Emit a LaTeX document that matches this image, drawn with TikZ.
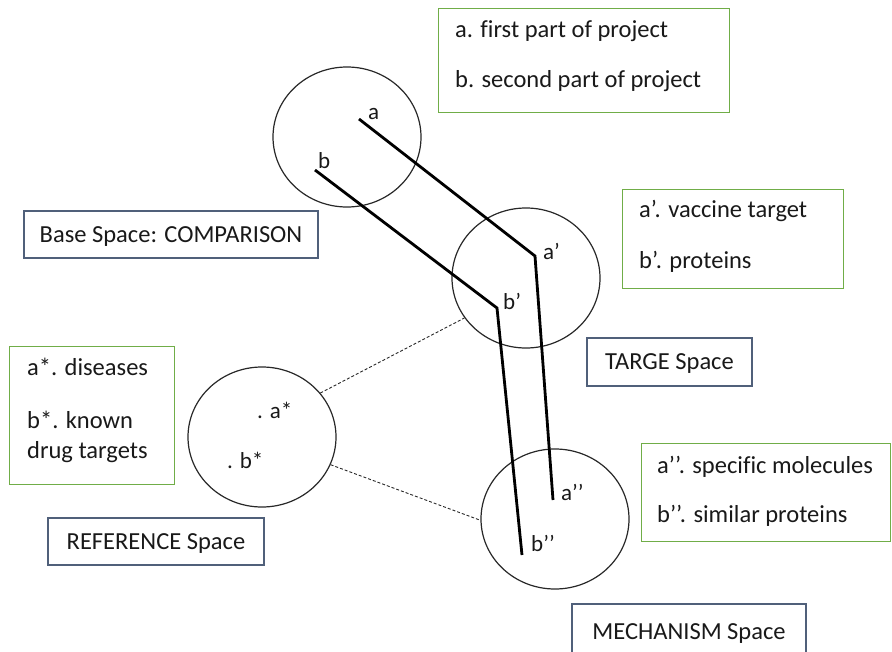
\documentclass[tikz,border=0pt]{standalone}
\usepackage{fontspec}
\setmainfont[Ligatures=NoCommon]{Carlito}
\usetikzlibrary{shapes.geometric}
\definecolor{gborder}{RGB}{112,173,71}
\definecolor{bborder}{RGB}{80,96,122}
\definecolor{txt}{RGB}{25,25,25}
\definecolor{circ}{RGB}{40,40,40}
\begin{document}
\begin{tikzpicture}[x=1pt,y=-1pt,
  every node/.style={font=\fontsize{24.5}{29}\selectfont, text=txt},
  space/.style={draw=circ, line width=1.2pt, ellipse, minimum width=148, minimum height=140, inner sep=0pt},
  gbox/.style={draw=gborder, line width=1.4pt, rectangle, inner sep=0pt, anchor=north west},
  bbox/.style={draw=bborder, line width=1.4pt, rectangle, inner sep=0pt, text height=15.8pt, text depth=0pt},
  lbl/.style={anchor=base west, inner sep=0pt},
  plbl/.style={lbl, font=\fontsize{23}{27}\selectfont},
  path/.style={line width=2.8pt, black},
  link/.style={draw=circ, line width=0.9pt, dash pattern=on 3pt off 2pt}
]
\useasboundingbox (0,0) rectangle (892,651);
\clip (0,0) rectangle (892,651);

% spaces (circles)
\node[space] (cA) at (347,137) {};
\node[space] (cT) at (526,278) {};
\node[space] (cR) at (262,437) {};
\node[space] (cM) at (555,519) {};

% mapping paths
\coordinate (a0) at (359,119);
\coordinate (a1) at (535,256);
\coordinate (a2) at (553,500);
\coordinate (b0) at (315,170);
\coordinate (b1) at (497,308);
\coordinate (b2) at (522,555);
\draw[path] (a0) -- (a1) -- (a2);
\draw[path] (b0) -- (b1) -- (b2);

% point labels
\node[plbl] (la) at (368,119) {a};
\node[plbl] (lb) at (318,168) {b};
\node[plbl] (la1) at (543,259) {a’};
\node[plbl] (lb1) at (503,309) {b’};
\node[plbl] (la2) at (561,500) {a’’};
\node[plbl] (lb2) at (531,551) {b’’};
\node[plbl] (lar) at (257,418) {. a*};
\node[plbl] (lbr) at (227,468) {. b*};

% dashed links
\draw[link] (cR.37) -- (cT.213);
\draw[link] (cR.-22) -- (cM.181);

% space names
\node[bbox, minimum width=294, minimum height=47] (nB) at (171,234.5) {Base Space: COMPARISON};
\node[bbox, minimum width=165, minimum height=48] (nT) at (669.5,362) {TARGE Space};
\node[bbox, minimum width=216, minimum height=47] (nR) at (156,541.5) {REFERENCE Space};
\node[bbox, minimum width=234, minimum height=56] (nM) at (689,632) {MECHANISM Space};

% legend boxes
\node[gbox, minimum width=291, minimum height=104] (g1) at (438,8) {};
\node[lbl] (g1a) at (455,37) {a. first part of project};
\node[lbl] (g1b) at (455,87) {b. second part of project};

\node[gbox, minimum width=221, minimum height=99] (g2) at (622,189) {};
\node[lbl] (g2a) at (639,217) {a’. vaccine target};
\node[lbl] (g2b) at (639,268) {b’. proteins};

\node[gbox, minimum width=165, minimum height=138] (g3) at (9,346) {};
\node[lbl] (g3a) at (27,375) {a*. diseases};
\node[lbl] (g3b) at (27,428) {b*. known};
\node[lbl] (g3c) at (27,458) {drug targets};

\node[gbox, minimum width=249, minimum height=98] (g4) at (641,443) {};
\node[lbl] (g4a) at (657,473) {a’’. specific molecules};
\node[lbl] (g4b) at (657,522) {b’’. similar proteins};
\end{tikzpicture}
\end{document}
